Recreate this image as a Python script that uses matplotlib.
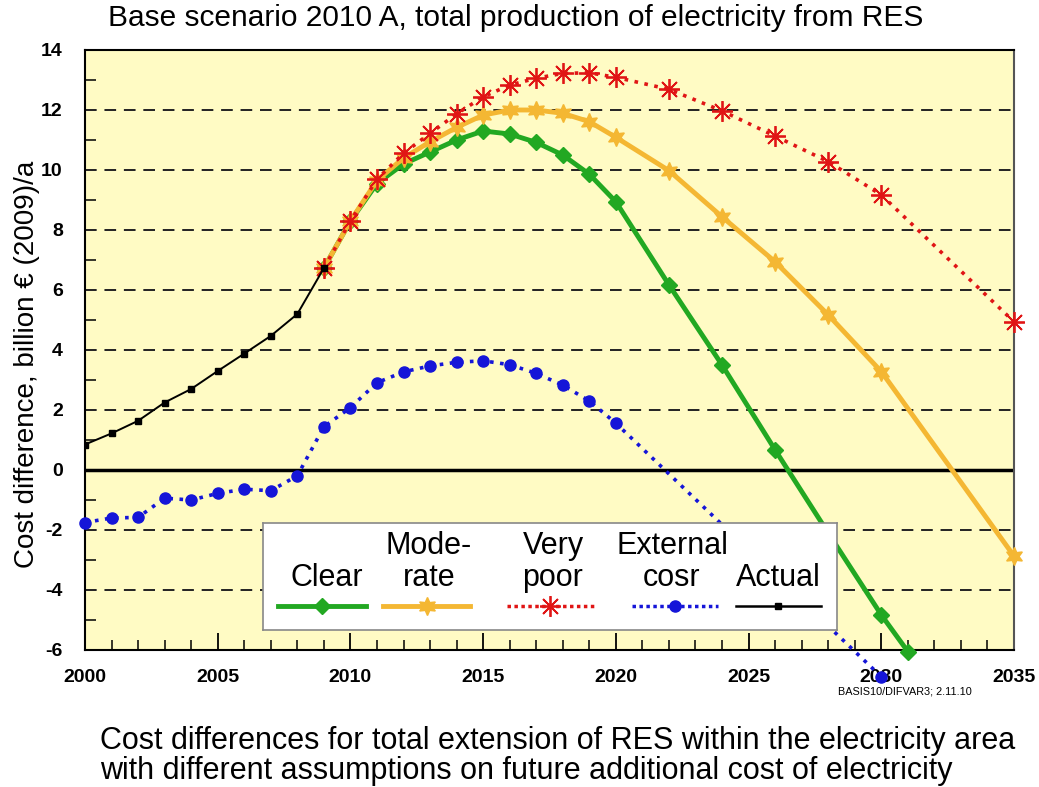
import matplotlib
matplotlib.use('Agg')
import matplotlib.pyplot as plt
from matplotlib.ticker import MultipleLocator

plt.rcParams['font.family'] = ['Liberation Sans', 'DejaVu Sans']
plt.rcParams['axes.unicode_minus'] = False

# Data (billion EUR (2009)/a)
years_actual = [2000, 2001, 2002, 2003, 2004, 2005, 2006, 2007, 2008, 2009]
actual = [0.85, 1.22, 1.64, 2.25, 2.70, 3.30, 3.88, 4.47, 5.20, 6.73]

years_ext = list(range(2000, 2021)) + [2030]
external = [-1.75, -1.6, -1.58, -0.94, -1.0, -0.78, -0.64, -0.69, -0.19, 1.44,
            2.08, 2.91, 3.27, 3.47, 3.59, 3.64, 3.51, 3.22, 2.83, 2.3, 1.56, -6.89]

years_clear = list(range(2009, 2021)) + [2022, 2024, 2026, 2028, 2030, 2031]
clear = [6.73, 8.3, 9.55, 10.2, 10.6, 11.0, 11.3, 11.2, 10.92, 10.5, 9.86, 8.94,
         6.17, 3.5, 0.67, -2.1, -4.83, -6.05]

years_scen = list(range(2009, 2021)) + [2022, 2024, 2026, 2028, 2030, 2035]
moderate = [6.73, 8.3, 9.65, 10.4, 10.94, 11.42, 11.83, 12.0, 12.0, 11.89, 11.61, 11.09,
            9.98, 8.44, 6.94, 5.17, 3.28, -2.87]
very_poor = [6.73, 8.3, 9.69, 10.56, 11.22, 11.87, 12.44, 12.83, 13.06, 13.22, 13.24, 13.09,
             12.69, 11.97, 11.13, 10.28, 9.17, 4.94]

green = '#22A822'
orange = '#F4B733'
red = '#E01515'
blue = '#1515D8'

W, H = 1039, 787
fig = plt.figure(figsize=(W / 100, H / 100), dpi=100)
ax = fig.add_axes([85 / W, 1 - 650 / H, (1014 - 85) / W, 600 / H])
ax.set_facecolor('#FFFBC4')

# grid + zero line
for v in [-4, -2, 2, 4, 6, 8, 10, 12]:
    ax.axhline(v, color='#222222', lw=1.4, ls=(0, (6, 4)), zorder=1)
ax.axhline(0, color='black', lw=2.5, zorder=2)

ax.plot(years_actual, actual, color='black', lw=1.4, marker='s', ms=4, zorder=6)
ax.plot(years_ext, external, color=blue, lw=2.6, ls=(0, (1, 1.8)), marker='o', ms=8,
        zorder=3, clip_on=False)
ax.plot(years_clear, clear, color=green, lw=3.5, marker='D', ms=8, zorder=4, clip_on=False)
ax.plot(years_scen, moderate, color=orange, lw=3.5, marker=(6, 1, 0), ms=13, zorder=4, clip_on=False)
ax.plot(years_scen, very_poor, color=red, lw=2.6, ls=(0, (1, 1.8)), marker=(8, 2, 0), ms=15,
        mec=red, mew=1.3, zorder=5, clip_on=False)

ax.set_xlim(2000, 2035)
ax.set_ylim(-6, 14)
ax.xaxis.set_major_locator(MultipleLocator(5))
ax.xaxis.set_minor_locator(MultipleLocator(1))
ax.yaxis.set_major_locator(MultipleLocator(2))
ax.yaxis.set_minor_locator(MultipleLocator(1))
ax.tick_params(axis='both', which='both', direction='in', top=False, right=False)
ax.tick_params(axis='x', which='major', length=12, width=1.3, pad=14)
ax.tick_params(axis='x', which='minor', length=7, width=1.1)
ax.tick_params(axis='y', which='major', length=0, pad=16)
ax.tick_params(axis='y', which='minor', length=8, width=1.1)
for lab in ax.get_xticklabels() + ax.get_yticklabels():
    lab.set_fontweight('bold')
    lab.set_fontsize(14)
for s in ax.spines.values():
    s.set_linewidth(1.5)
ax.spines['right'].set_color('#555555')

fig.text(27 / W, 1 - 364 / H, 'Cost difference, billion € (2009)/a', rotation=90,
         ha='center', va='center', fontsize=20)

fig.text(516 / W, 1 - 18 / H, 'Base scenario 2010 A, total production of electricity from RES',
         ha='center', va='center', fontsize=21.5)
fig.text(838 / W, 1 - 692 / H, 'BASIS10/DIFVAR3; 2.11.10', ha='left', va='center', fontsize=7.8)
fig.text(100 / W, 1 - 741 / H, 'Cost differences for total extension of RES within the electricity area',
         ha='left', va='center', fontsize=22)
fig.text(100 / W, 1 - 771 / H, 'with different assumptions on future additional cost of electricity',
         ha='left', va='center', fontsize=22)

# legend box with labels above line samples
lx0, lx1, ly0, ly1 = 263, 837, 523, 630
lg = fig.add_axes([lx0 / W, 1 - ly1 / H, (lx1 - lx0) / W, (ly1 - ly0) / H])
lg.set_xlim(lx0, lx1)
lg.set_ylim(ly1, ly0)
lg.set_xticks([])
lg.set_yticks([])
lg.set_facecolor('white')
for s in lg.spines.values():
    s.set_color('#888888')
    s.set_linewidth(1.2)

entries = [
    ('Clear', None, (278, 366, 322), 327, dict(color=green, lw=3.5, marker='D', ms=8)),
    ('rate', 'Mode-', (383, 470, 427), 429, dict(color=orange, lw=3.5, marker=(6, 1, 0), ms=13)),
    ('poor', 'Very', (507, 595, 550), 553, dict(color=red, lw=2.5, ls=(0, (1, 1)), marker=(8, 2, 0), ms=15, mec=red, mew=1.3)),
    ('cosr', 'External', (632, 718, 675), 672, dict(color=blue, lw=2.5, ls=(0, (1, 1)), marker='o', ms=8)),
    ('Actual', None, (736, 821, 778), 778, dict(color='black', lw=1.8, marker='s', ms=5)),
]
for low, high, (a, b, m), tx, style in entries:
    mk = style.pop('marker')
    ms = style.pop('ms')
    mec = style.pop('mec', style['color'])
    mew = style.pop('mew', 1)
    lg.plot([a, b], [606, 606], **style)
    lg.plot([m], [606], marker=mk, ms=ms, color=style['color'], mec=mec, mew=mew, ls='none')
    lg.text(tx, 578, low, ha='center', va='center', fontsize=22)
    if high:
        lg.text(tx, 546, high, ha='center', va='center', fontsize=22)

fig.savefig('out.png', dpi=100)
